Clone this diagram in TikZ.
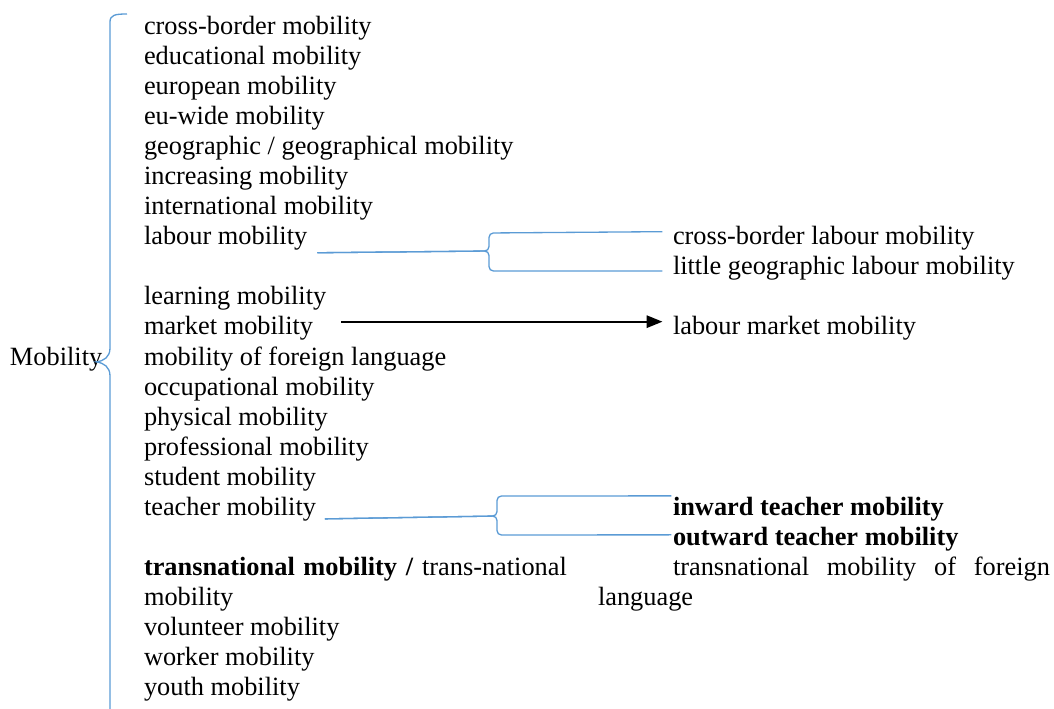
\documentclass[tikz,border=0pt]{standalone}
\usepackage{fontspec}
\setmainfont{Liberation Serif}
\usetikzlibrary{arrows.meta}
\definecolor{braceblue}{RGB}{91,155,213}
\tikzset{
  term/.style={anchor=base west, inner sep=0pt, outer sep=0pt, font=\fontsize{15}{18}\selectfont},
  bline/.style={draw=braceblue, line width=0.75pt},
  brace/.style={bline, rounded corners=2.5pt},
}

\begin{document}
\begin{tikzpicture}[x=0.02cm, y=-0.02cm]
\useasboundingbox (0,0) rectangle (1054,709);

\node[term] (mob) at (10,365) {Mobility};

\node[term] (cross) at (144,35) {cross-border mobility};
\node[term] (edu) at (144,65) {educational mobility};
\node[term] (euro) at (144,95) {european mobility};
\node[term] (euwide) at (144,125) {eu-wide mobility};
\node[term] (geo) at (144,155) {geographic / geographical mobility};
\node[term] (incr) at (144,185) {increasing mobility};
\node[term] (intl) at (144,215) {international mobility};
\node[term] (labour) at (144,245) {labour mobility};
\node[term] (learn) at (144,305) {learning mobility};
\node[term] (market) at (144,335) {market mobility};
\node[term] (foreign) at (144,365) {mobility of foreign language};
\node[term] (occup) at (144,395) {occupational mobility};
\node[term] (phys) at (144,425) {physical mobility};
\node[term] (prof) at (144,455) {professional mobility};
\node[term] (student) at (144,485) {student mobility};
\node[term] (teacher) at (144,515) {teacher mobility};
\node[term] (trans) at (144,575) {\makebox[8.46cm][s]{\textbf{transnational mobility /} trans-national}};
\node[term] (transb) at (144,605) {mobility};
\node[term] (volun) at (144,635) {volunteer mobility};
\node[term] (worker) at (144,665) {worker mobility};
\node[term] (youth) at (144,695) {youth mobility};

\node[term] (cblabour) at (673,245) {cross-border labour mobility};
\node[term] (geolabour) at (673,275) {little geographic labour mobility};
\node[term] (lmarket) at (673,335) {labour market mobility};
\node[term] (inward) at (673,515) {\textbf{inward teacher mobility}};
\node[term] (outward) at (673,545) {\textbf{outward teacher mobility}};
\node[term] (tforeign) at (673,575) {\makebox[7.54cm][s]{transnational mobility of foreign}};
\node[term] (lang) at (598,605) {language};

\coordinate (top) at (127,14);
\coordinate (bottom) at (110,709);
\draw[bline] (top) .. controls (115,14) and (110,15) .. (110,22) -- (110,348)
  .. controls (110,357) and (104,361) .. ([xshift=-3.4pt,yshift=-1.8pt]mob.east)
  .. controls (104,363) and (110,367) .. (110,376) -- (bottom);

\draw[brace] ([xshift=5.7pt,yshift=-8pt]labour.east) -- (489,251) -- (489,233) -- ([xshift=-6pt,yshift=4pt]cblabour.west);
\draw[brace] ([xshift=5.7pt,yshift=-8pt]labour.east) -- (489,251) -- (489,271) -- ([xshift=-6pt,yshift=-1.3pt]geolabour.west);

\draw[line width=1.1pt, -{Triangle[length=9pt,width=7pt]}] ([xshift=16pt,yshift=4pt]market.east) -- ([xshift=-6pt,yshift=4pt]lmarket.west);

\draw[brace] ([xshift=5pt,yshift=-5.8pt]teacher.east) -- (497,516) -- (497,496) -- ([xshift=-1pt,yshift=7.3pt]inward.west);
\draw[brace] ([xshift=5pt,yshift=-5.8pt]teacher.east) -- (497,516) -- (497,535) -- ([xshift=-1pt,yshift=2.2pt]outward.west);

\end{tikzpicture}
\end{document}
